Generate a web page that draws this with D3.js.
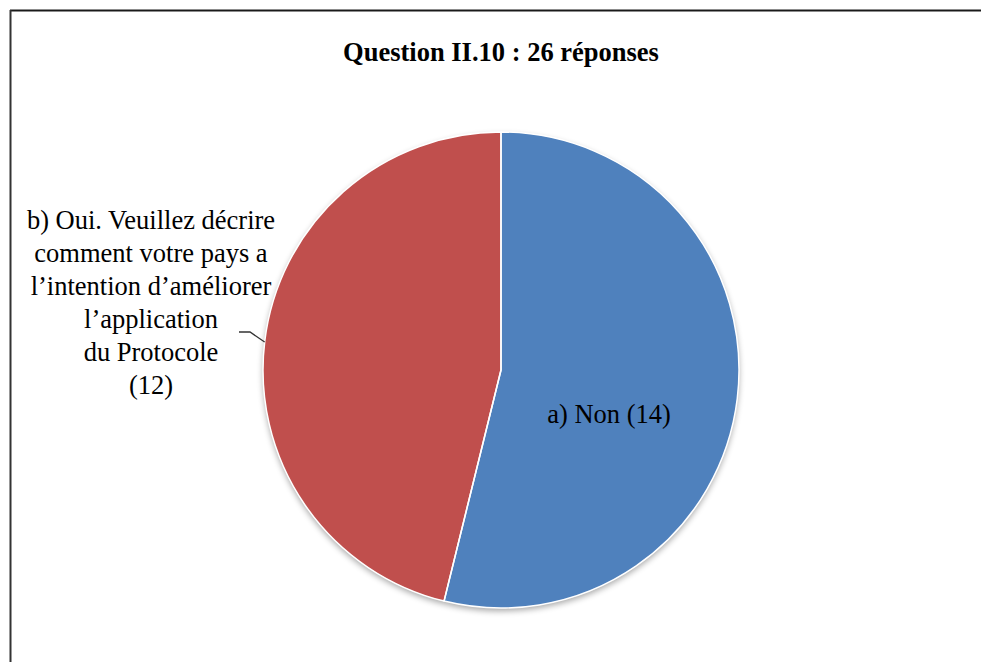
<!DOCTYPE html>
<html>
<head>
<meta charset="utf-8">
<script src="https://cdn.jsdelivr.net/npm/d3@7"></script>
<style>
  html, body { margin: 0; padding: 0; background: #fff; }
  svg { display: block; }
</style>
</head>
<body>
<svg id="chart" width="981" height="662"></svg>
<script>
// Survey answers for question II.10
const categories = ["a) Non", "b) Oui. Veuillez décrire comment votre pays a l’intention d’améliorer l’application du Protocole"];
const values = [14, 12];
const colors = ["#4F81BD", "#C0504D"];
const titleText = "Question II.10 : 26 réponses";
const labelLines = [
  ["a) Non (14)"],
  ["b) Oui. Veuillez décrire", "comment votre pays a", "l’intention d’améliorer", "l’application", "du Protocole", "(12)"]
];

const W = 981, H = 662;
const cx = 501, cy = 370, R = 238;
const font = "'Liberation Serif', 'Times New Roman', serif";
const svg = d3.select("#chart");

// frame (top and left edges)
svg.append("line").attr("x1", 10).attr("y1", 10.5).attr("x2", W).attr("y2", 10.5)
  .attr("stroke", "#1a1a1a").attr("stroke-width", 2);
svg.append("line").attr("x1", 10.5).attr("y1", 10).attr("x2", 10.5).attr("y2", H)
  .attr("stroke", "#333").attr("stroke-width", 2);

// title
svg.append("text")
  .attr("x", cx).attr("y", 61)
  .attr("text-anchor", "middle")
  .attr("font-family", font)
  .attr("font-weight", "bold")
  .attr("font-size", 26.5)
  .attr("fill", "#000")
  .text(titleText);

// soft shadow under the pie
const defs = svg.append("defs");
const f = defs.append("filter").attr("id", "shadow")
  .attr("x", "-20%").attr("y", "-20%").attr("width", "140%").attr("height", "140%");
f.append("feGaussianBlur").attr("in", "SourceAlpha").attr("stdDeviation", 3).attr("result", "b");
f.append("feOffset").attr("in", "b").attr("dx", 0).attr("dy", 3).attr("result", "o");
f.append("feComponentTransfer").attr("in", "o").attr("result", "s")
  .append("feFuncA").attr("type", "linear").attr("slope", 0.35);
const m = f.append("feMerge");
m.append("feMergeNode").attr("in", "s");
m.append("feMergeNode").attr("in", "SourceGraphic");

const pie = d3.pie().sort(null).value(d => d)(values);
const arc = d3.arc().innerRadius(0).outerRadius(R);

const g = svg.append("g").attr("transform", `translate(${cx},${cy})`);
g.append("g").attr("filter", "url(#shadow)")
  .selectAll("path").data(pie).join("path")
  .attr("d", arc)
  .attr("fill", (d, i) => colors[i]);
g.append("g").selectAll("path").data(pie).join("path")
  .attr("d", arc)
  .attr("fill", "none")
  .attr("stroke", "#fff")
  .attr("stroke-width", 1.5)
  .attr("stroke-linejoin", "round");

// label inside the blue slice
g.append("text")
  .attr("x", 108).attr("y", 53)
  .attr("text-anchor", "middle")
  .attr("font-family", font).attr("font-size", 26.5)
  .text(labelLines[0][0]);

// outside label for the red slice, with leader line
const lx = 151 - cx, ly0 = 229 - cy, lh = 33;
const tb = g.append("text")
  .attr("text-anchor", "middle")
  .attr("font-family", font).attr("font-size", 26.5);
labelLines[1].forEach((s, i) => {
  tb.append("tspan").attr("x", lx).attr("y", ly0 + i * lh).text(s);
});
// leader meets the red slice edge slightly above the centre line
const edgeAng = 2 * Math.PI - Math.acos(28 / R);
const edge = [R * Math.sin(edgeAng), -R * Math.cos(edgeAng)];
g.append("polyline")
  .attr("points", [[239 - cx, 332 - cy], [250 - cx, 332 - cy], [edge[0], edge[1]]].map(p => p.join(",")).join(" "))
  .attr("fill", "none").attr("stroke", "#333").attr("stroke-width", 1.3);
</script>
</body>
</html>
